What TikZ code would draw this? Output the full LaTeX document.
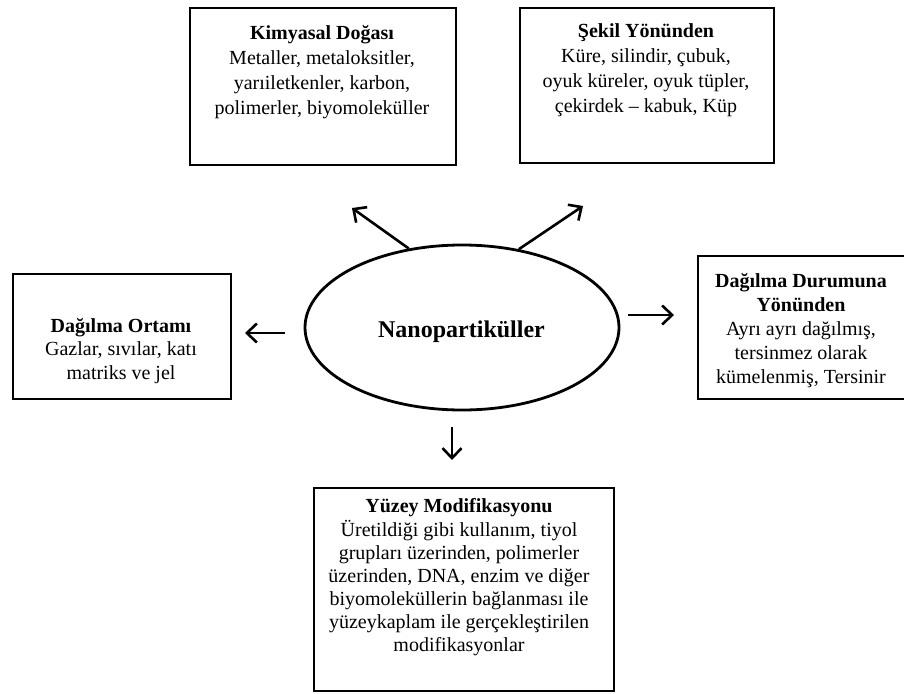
\documentclass[tikz,border=0pt]{standalone}
\usepackage{fontspec}
\setmainfont{Liberation Serif}
\usetikzlibrary{arrows.meta,shapes.geometric}
\begin{document}
\begin{tikzpicture}[x=1pt,y=-1pt,
  boxstyle/.style={draw, line width=2pt, inner sep=0pt, anchor=north west},
  txt/.style={align=center, inner sep=0pt, anchor=north},
  arr/.style={line width=2.6pt, -{Straight Barb[length=10pt,width=19pt,line width=2.6pt]}}]
\useasboundingbox (0,0) rectangle (904,693);
% boxes
\node[boxstyle, minimum width=266pt, minimum height=157pt] (b1) at (189,7) {};
\node[boxstyle, minimum width=254pt, minimum height=155pt] (b2) at (519,7) {};
\node[boxstyle, minimum width=218pt, minimum height=125pt] (b3) at (12,273) {};
\node[boxstyle, minimum width=212pt, minimum height=143pt] (b4) at (697,255) {};
\node[boxstyle, minimum width=300pt, minimum height=203pt] (b5) at (313,487) {};
% texts
\node[txt, font=\fontsize{20}{25}\selectfont] (t1) at (322,21.5)
  {\strut\textbf{Kimyasal Doğası}\\Metaller, metaloksitler,\\yarıiletkenler, karbon,\\polimerler, biyomoleküller};
\node[txt, font=\fontsize{20}{25}\selectfont] (t2) at (646,19.5)
  {\strut\textbf{Şekil Yönünden}\\Küre, silindir, çubuk,\\oyuk küreler, oyuk tüpler,\\çekirdek – kabuk, Küp};
\node[txt, font=\fontsize{20}{23.5}\selectfont] (t3) at (121,315.5)
  {\strut\textbf{Dağılma Ortamı}\\Gazlar, sıvılar, katı\\matriks ve jel};
\node[txt, font=\fontsize{20}{24}\selectfont] (t4) at (801,270.2)
  {\strut\textbf{Dağılma Durumuna}\\\textbf{Yönünden}\\Ayrı ayrı dağılmış,\\tersinmez olarak\\kümelenmiş, Tersinir};
\node[txt, font=\fontsize{20}{23}\selectfont] (t5) at (459,495.9)
  {\strut\textbf{Yüzey Modifikasyonu}\\Üretildiği gibi kullanım, tiyol\\grupları üzerinden, polimerler\\üzerinden, DNA, enzim ve diğer\\biyomoleküllerin bağlanması ile\\yüzeykaplam ile gerçekleştirilen\\modifikasyonlar};
% centre
\node[draw, ellipse, line width=2.8pt, minimum width=314pt, minimum height=165pt, inner sep=0pt] (np) at (462,327.5) {};
\node[font=\fontsize{24}{28}\selectfont\bfseries, anchor=base, inner sep=0pt] (npt) at (461.5,337) {Nanopartiküller};
% arrows
\coordinate (ul) at (352,208);
\coordinate (ur) at (583,206);
\coordinate (l0) at (285,333);
\coordinate (l1) at (245,333);
\coordinate (r0) at (628,315);
\coordinate (r1) at (674,315);
\coordinate (d0) at (452,427);
\coordinate (d1) at (452,460);
\draw[arr] (np.124) -- (ul);
\draw[arr] (np.54) -- (ur);
\draw[arr] (l0) -- (l1);
\draw[arr] (r0) -- (r1);
\draw[arr] (d0) -- (d1);
\end{tikzpicture}
\end{document}
